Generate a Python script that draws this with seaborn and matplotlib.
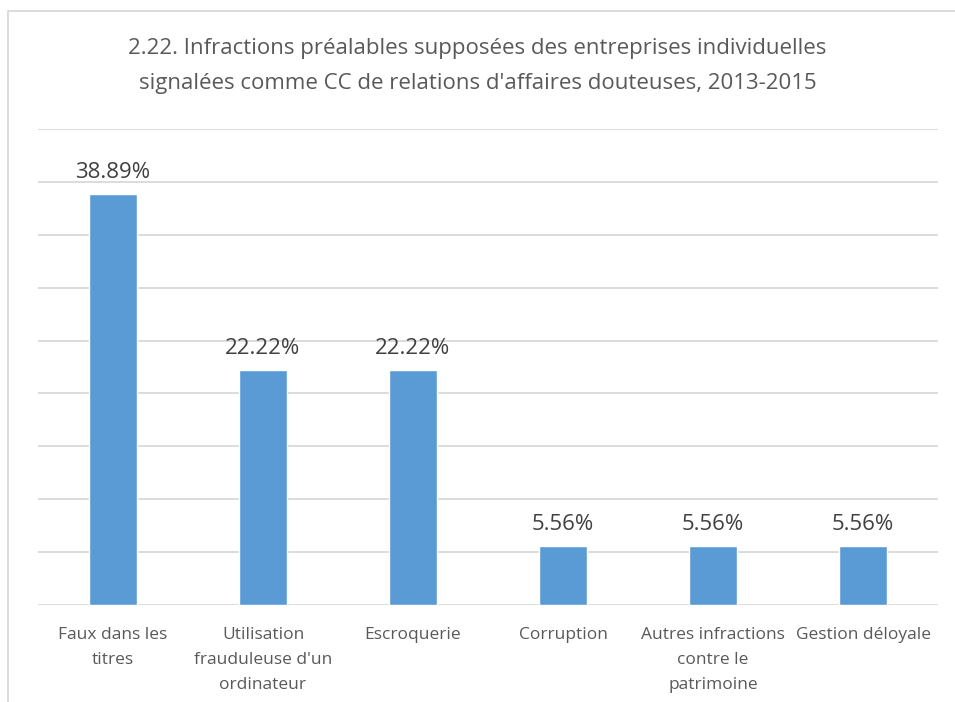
import matplotlib
matplotlib.use("Agg")
import matplotlib.pyplot as plt
from matplotlib.patches import Rectangle
import seaborn as sns
import pandas as pd

categories = ["Faux dans les\ntitres",
              "Utilisation\nfrauduleuse d'un\nordinateur",
              "Escroquerie",
              "Corruption",
              "Autres infractions\ncontre le\npatrimoine",
              "Gestion déloyale"]
values = [38.89, 22.22, 22.22, 5.56, 5.56, 5.56]
title = ("2.22. Infractions préalables supposées des entreprises individuelles\n"
         "signalées comme CC de relations d'affaires douteuses, 2013-2015")

df = pd.DataFrame({"cat": categories, "val": values})

sns.set_style("white")
plt.rcParams["font.family"] = ["Open Sans", "DejaVu Sans"]

fig = plt.figure(figsize=(9.55, 7.02), dpi=100)
ax = fig.add_axes([38 / 955, 1 - 605 / 702, 900 / 955, 476 / 702])

sns.barplot(data=df, x="cat", y="val", color="#5b9bd5", saturation=1,
            width=0.315, ax=ax, zorder=3)

ax.set_ylim(0, 45)
ax.set_yticks(range(0, 50, 5))
ax.yaxis.grid(True, color="#d9d9d9", linewidth=1.3)
ax.set_axisbelow(True)
ax.tick_params(axis="y", left=False, labelleft=False)
ax.tick_params(axis="x", bottom=False, labelsize=12.5, labelcolor="#595959", pad=12)
for s in ax.spines.values():
    s.set_visible(False)
ax.set_xlabel("")
ax.set_ylabel("")
for lbl in ax.get_xticklabels():
    lbl.set_linespacing(1.75)

for i, v in enumerate(values):
    ax.annotate(f"{v:.2f}%", (i, v), xytext=(0, 8), textcoords="offset points",
                ha="center", va="bottom", fontsize=16, color="#404040")

fig.text(0.5, 1 - 66 / 702, title, ha="center", va="center", fontsize=16,
         color="#595959", linespacing=1.9)

fig.patches.append(Rectangle((8 / 955, -0.1), 2, 1 - 11 / 702 + 0.1,
                             transform=fig.transFigure, fill=False,
                             edgecolor="#d9d9d9", linewidth=1.3))

fig.savefig("out.png", dpi=100, facecolor="white")
